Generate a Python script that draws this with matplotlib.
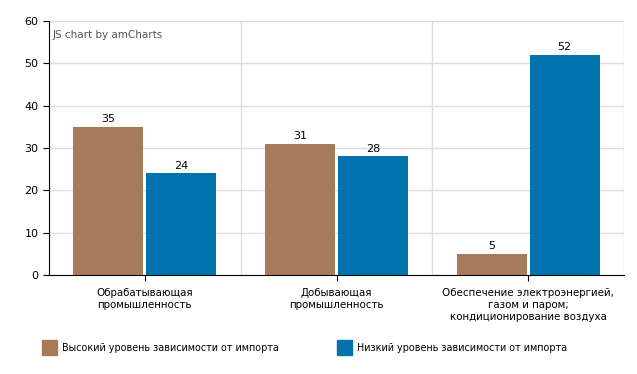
import matplotlib
matplotlib.use("Agg")
import matplotlib.pyplot as plt
from matplotlib.patches import Rectangle
import numpy as np

categories = ["Обрабатывающая\nпромышленность",
              "Добывающая\nпромышленность",
              "Обеспечение электроэнергией,\nгазом и паром;\nкондиционирование воздуха"]
series_names = ["Высокий уровень зависимости от импорта",
                "Низкий уровень зависимости от импорта"]
high = [35, 31, 5]
low = [24, 28, 52]
colors = ["#A67B5B", "#0073AC"]

plt.rcParams['font.family'] = ['DejaVu Sans']
fig = plt.figure(figsize=(6.37, 3.74), dpi=100)
ax = fig.add_axes([49/637, 1-275/374, (624-49)/637, (275-21)/374])

x = np.arange(len(categories))
w = 0.365
off = 0.19
b1 = ax.bar(x - off, high, w, color=colors[0], zorder=3)
b2 = ax.bar(x + off, low, w, color=colors[1], zorder=3)
for bars, vals in ((b1, high), (b2, low)):
    for r, v in zip(bars, vals):
        ax.text(r.get_x() + r.get_width()/2, v + 0.6, str(v), ha='center', va='bottom',
                fontsize=8, color='black')

ax.set_xlim(-0.5, 2.5)
ax.set_ylim(0, 60)
ax.set_yticks(range(0, 61, 10))
ax.set_xticks(x)
ax.set_xticklabels(categories, fontsize=7.4, linespacing=1.3)
ax.tick_params(axis='y', labelsize=8, length=4, color='black')
ax.tick_params(axis='x', length=4, color='black', pad=5)
ax.grid(axis='y', color='#dddddd', lw=1, zorder=0)
for b in (0.5, 1.5, 2.5):
    ax.axvline(b, color='#dddddd', lw=1, zorder=0)
ax.axhline(60, color='#dddddd', lw=1, zorder=0)
for s in ('top', 'right'):
    ax.spines[s].set_visible(False)
ax.spines['left'].set_color('black')
ax.spines['bottom'].set_color('black')

ax.text(0.007, 0.965, "JS chart by amCharts", transform=ax.transAxes, fontsize=7.5,
        color='#555555', ha='left', va='top')

# legend
for i, (name, xpos) in enumerate(zip(series_names, [42, 337])):
    fig.patches.append(Rectangle((xpos/637, 1-355/374), 15/637, 15/374,
                                 transform=fig.transFigure, color=colors[i]))
    fig.text((xpos+20)/637, 1-348/374, name, fontsize=6.9, va='center', ha='left')

fig.savefig("out.png", dpi=100)
